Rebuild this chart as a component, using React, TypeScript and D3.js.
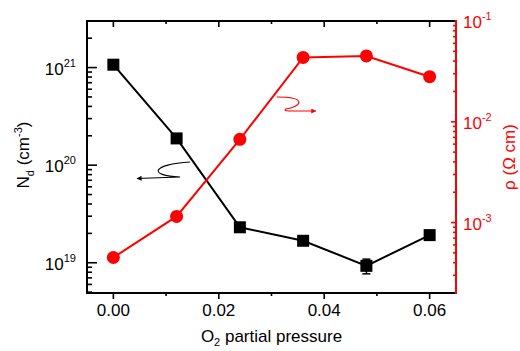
import React, { useEffect, useRef } from 'react';
import * as d3 from 'd3';

// O2 partial pressure (x)
const pressure = [0, 0.012, 0.024, 0.036, 0.048, 0.06];
// carrier density Nd (cm^-3), left axis
const nd = [1.07e21, 1.88e20, 2.31e19, 1.68e19, 9.3e18, 1.92e19];
const ndErr = [0, 0, 0, 0, 1.6e18, 0];
// resistivity rho (Ohm cm), right axis
const rho = [4.5e-4, 1.15e-3, 6.7e-3, 4.35e-2, 4.5e-2, 2.8e-2];

const xTicks = [0, 0.02, 0.04, 0.06];
const xMinorTicks = [0.01, 0.03, 0.05];
const leftExps = [19, 20, 21];
const rightExps = [-3, -2, -1];

const W = 520;
const H = 351;
const FONT = 'Liberation Sans, Arial, sans-serif';

const App = () => {
  const svgRef = useRef<SVGSVGElement>(null);

  useEffect(() => {
    const svg = d3.select(svgRef.current);
    svg.selectAll('*').remove();

    const left = 87, right = 456, top = 21, bottom = 293;

    const x = d3.scaleLinear().domain([-0.005, 0.065]).range([left, right]);
    const yL = d3.scaleLog().domain([4.9e18, 3e21]).range([bottom, top]);
    const yR = d3.scaleLog().domain([2e-4, 1e-1]).range([bottom, top]);

    const defs = svg.append('defs');
    const mk = (id: string, color: string) => {
      defs.append('marker')
        .attr('id', id)
        .attr('viewBox', '0 0 10 10')
        .attr('refX', 9)
        .attr('refY', 5)
        .attr('markerWidth', 7)
        .attr('markerHeight', 5)
        .attr('markerUnits', 'userSpaceOnUse')
        .attr('orient', 'auto')
        .append('path')
        .attr('d', 'M0,0 L10,5 L0,10 Z')
        .attr('fill', color);
    };
    mk('arrow-black', '#000');
    mk('arrow-red', '#f00');

    // minor log ticks
    const minorLog = (lo: number, hi: number) => {
      const out: number[] = [];
      for (let e = lo; e <= hi; e++) {
        for (let m = 1; m <= 9; m++) out.push(m * Math.pow(10, e));
      }
      return out;
    };

    // left axis ticks (inward)
    const gl = svg.append('g');
    minorLog(18, 21)
      .filter(v => v >= yL.domain()[0] && v <= yL.domain()[1])
      .forEach(v => {
        const major = Math.abs(Math.log10(v) - Math.round(Math.log10(v))) < 1e-9;
        gl.append('line')
          .attr('x1', left).attr('x2', left + (major ? 10 : 5))
          .attr('y1', yL(v)).attr('y2', yL(v))
          .attr('stroke', '#000').attr('stroke-width', 1.6);
      });

    // right axis ticks (inward, red)
    const gr = svg.append('g');
    minorLog(-4, -1)
      .filter(v => v >= yR.domain()[0] * 0.999 && v <= yR.domain()[1] * 1.001)
      .forEach(v => {
        const major = Math.abs(Math.log10(v) - Math.round(Math.log10(v))) < 1e-9;
        gr.append('line')
          .attr('x1', right).attr('x2', right - (major ? 5 : 3))
          .attr('y1', yR(v)).attr('y2', yR(v))
          .attr('stroke', '#f00').attr('stroke-width', 1.6);
      });

    // bottom (outward) and top (inward) ticks
    const gx = svg.append('g');
    xTicks.forEach(t => {
      gx.append('line').attr('x1', x(t)).attr('x2', x(t))
        .attr('y1', bottom).attr('y2', bottom + 6)
        .attr('stroke', '#000').attr('stroke-width', 1.6);
      gx.append('line').attr('x1', x(t)).attr('x2', x(t))
        .attr('y1', top).attr('y2', top + 6)
        .attr('stroke', '#000').attr('stroke-width', 1.6);
    });
    xMinorTicks.forEach(t => {
      gx.append('line').attr('x1', x(t)).attr('x2', x(t))
        .attr('y1', bottom).attr('y2', bottom + 3)
        .attr('stroke', '#000').attr('stroke-width', 1.6);
      gx.append('line').attr('x1', x(t)).attr('x2', x(t))
        .attr('y1', top).attr('y2', top + 3)
        .attr('stroke', '#000').attr('stroke-width', 1.6);
    });

    // frame
    svg.append('path')
      .attr('d', `M${right},${top} L${left},${top} L${left},${bottom} L${right},${bottom}`)
      .attr('fill', 'none').attr('stroke', '#000').attr('stroke-width', 2);
    svg.append('line')
      .attr('x1', right).attr('x2', right).attr('y1', top - 1).attr('y2', bottom + 1)
      .attr('stroke', '#f00').attr('stroke-width', 2);

    // x tick labels
    xTicks.forEach(t => {
      svg.append('text')
        .attr('x', x(t)).attr('y', 316)
        .attr('text-anchor', 'middle')
        .style('font-family', FONT).style('font-size', '17px')
        .text(d3.format('.2f')(t));
    });

    // left tick labels
    leftExps.forEach(e => {
      const t = svg.append('text')
        .attr('x', 76).attr('y', yL(Math.pow(10, e)) + 7)
        .attr('text-anchor', 'end')
        .style('font-family', FONT).style('font-size', '17px');
      t.append('tspan').text('10');
      t.append('tspan').attr('dy', -8).style('font-size', '11px').text(String(e));
    });

    // right tick labels
    rightExps.forEach(e => {
      const t = svg.append('text')
        .attr('x', 463).attr('y', yR(Math.pow(10, e)) + 7)
        .attr('fill', '#f00')
        .style('font-family', FONT).style('font-size', '17px');
      t.append('tspan').text('10');
      t.append('tspan').attr('dy', -8).style('font-size', '11px').text(String(e));
    });

    // axis titles
    const xt = svg.append('text')
      .attr('x', (left + right) / 2).attr('y', 342)
      .attr('text-anchor', 'middle')
      .style('font-family', FONT).style('font-size', '17px');
    xt.append('tspan').text('O');
    xt.append('tspan').attr('dy', 4).style('font-size', '11px').text('2');
    xt.append('tspan').attr('dy', -4).text(' partial pressure');

    const yt = svg.append('text')
      .attr('transform', `translate(29,${(top + bottom) / 2 - 2}) rotate(-90)`)
      .attr('text-anchor', 'middle')
      .style('font-family', FONT).style('font-size', '17px');
    yt.append('tspan').text('N');
    yt.append('tspan').attr('dy', 5).style('font-size', '11px').text('d');
    yt.append('tspan').attr('dy', -5).text(' (cm');
    yt.append('tspan').attr('dy', -7).style('font-size', '11px').text('-3');
    yt.append('tspan').attr('dy', 7).text(')');

    svg.append('text')
      .attr('transform', `translate(515,${(top + bottom) / 2})  rotate(-90)`)
      .attr('text-anchor', 'middle')
      .attr('fill', '#f00')
      .style('font-family', FONT).style('font-size', '17px')
      .text('ρ (Ω cm)');

    const ndData = pressure.map((p, i) => ({ p, v: nd[i], err: ndErr[i] }));
    const rhoData = pressure.map((p, i) => ({ p, v: rho[i] }));

    // Nd series
    svg.append('path')
      .datum(ndData)
      .attr('fill', 'none').attr('stroke', '#000').attr('stroke-width', 2)
      .attr('d', d3.line<any>().x(d => x(d.p)).y(d => yL(d.v)));
    ndData.filter(d => d.err > 0).forEach(d => {
      const lo = yL(d.v - d.err), hi = yL(d.v + d.err);
      svg.append('line').attr('x1', x(d.p)).attr('x2', x(d.p))
        .attr('y1', lo).attr('y2', hi).attr('stroke', '#000').attr('stroke-width', 1.5);
      [lo, hi].forEach(yy => svg.append('line')
        .attr('x1', x(d.p) - 4).attr('x2', x(d.p) + 4)
        .attr('y1', yy).attr('y2', yy).attr('stroke', '#000').attr('stroke-width', 1.5));
    });
    svg.selectAll('.nd-pt')
      .data(ndData).enter().append('rect')
      .attr('class', 'nd-pt')
      .attr('x', d => x(d.p) - 6).attr('y', d => yL(d.v) - 6)
      .attr('width', 12).attr('height', 12)
      .attr('fill', '#000');

    // rho series
    svg.append('path')
      .datum(rhoData)
      .attr('fill', 'none').attr('stroke', '#f00').attr('stroke-width', 2)
      .attr('d', d3.line<any>().x(d => x(d.p)).y(d => yR(d.v)));
    svg.selectAll('.rho-pt')
      .data(rhoData).enter().append('circle')
      .attr('class', 'rho-pt')
      .attr('cx', d => x(d.p)).attr('cy', d => yR(d.v))
      .attr('r', 6.5)
      .attr('fill', '#f00');

    // annotation arrows pointing to their axes
    const ax = x(0.0045), ay = yL(7.3e19);
    svg.append('path')
      .attr('d', `M${ax + 53},${ay - 16.5} C${ax + 15},${ay - 14} ${ax + 10},${ay - 3} ${ax + 43},${ay - 1.5} L${ax},${ay}`)
      .attr('fill', 'none').attr('stroke', '#000').attr('stroke-width', 1.1)
      .attr('marker-end', 'url(#arrow-black)');

    const rx = x(0.031), ry = yR(1.8e-2) + 1;
    svg.append('path')
      .attr('d', `M${rx},${ry} C${rx + 32},${ry} ${rx + 24},${ry + 10} ${rx + 9},${ry + 12} C${rx + 6},${ry + 14} ${rx + 12},${ry + 14} ${rx + 16},${ry + 14} L${rx + 39},${ry + 14}`)
      .attr('fill', 'none').attr('stroke', '#f00').attr('stroke-width', 1.1)
      .attr('marker-end', 'url(#arrow-red)');
  }, []);

  return (
    <svg
      ref={svgRef}
      width={W}
      height={H}
      style={{ position: 'absolute', left: 0, top: 0, background: '#fff' }}
    />
  );
};

export default App;
